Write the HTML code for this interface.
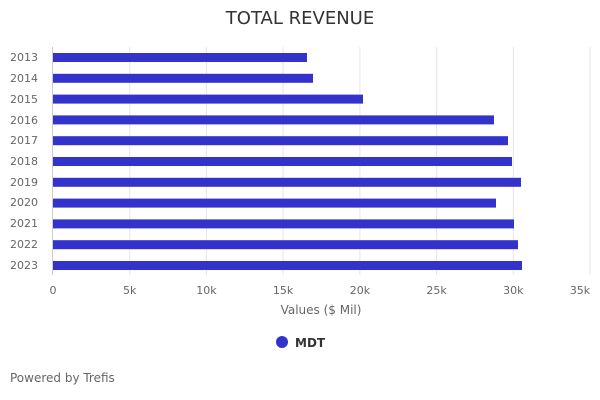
<!DOCTYPE html>
<html><head><meta charset="utf-8"><style>
body{margin:0;background:#fff;}
svg{display:block;font-family:"DejaVu Sans","Liberation Sans",sans-serif;}
</style></head><body>
<svg width="600" height="400" viewBox="0 0 600 400" xmlns="http://www.w3.org/2000/svg">
<rect width="600" height="400" fill="#fff"/>
<text x="300" y="24" text-anchor="middle" font-size="18" fill="#333">TOTAL REVENUE</text>
<g stroke="#e6e6e6" stroke-width="1">
<line x1="129.7" y1="47" x2="129.7" y2="275"/>
<line x1="206.4" y1="47" x2="206.4" y2="275"/>
<line x1="283.1" y1="47" x2="283.1" y2="275"/>
<line x1="359.9" y1="47" x2="359.9" y2="275"/>
<line x1="436.6" y1="47" x2="436.6" y2="275"/>
<line x1="513.3" y1="47" x2="513.3" y2="275"/>
<line x1="590" y1="47" x2="590" y2="275"/>
</g>
<line x1="52.5" y1="47" x2="52.5" y2="275" stroke="#ccc"/>
<g fill="#3333cc">
<rect x="53" y="53" width="254" height="9"/>
<rect x="53" y="73.8" width="260" height="9"/>
<rect x="53" y="94.6" width="310" height="9"/>
<rect x="53" y="115.4" width="441" height="9"/>
<rect x="53" y="136.2" width="455" height="9"/>
<rect x="53" y="157" width="459" height="9"/>
<rect x="53" y="177.8" width="468" height="9"/>
<rect x="53" y="198.6" width="443" height="9"/>
<rect x="53" y="219.4" width="461" height="9"/>
<rect x="53" y="240.2" width="465" height="9"/>
<rect x="53" y="261" width="469" height="9"/>
</g>
<g font-size="11" fill="#666" text-anchor="end">
<text x="38" y="61">2013</text><text x="38" y="82">2014</text><text x="38" y="103">2015</text>
<text x="38" y="124">2016</text><text x="38" y="144">2017</text><text x="38" y="165">2018</text>
<text x="38" y="186">2019</text><text x="38" y="206">2020</text><text x="38" y="227">2021</text>
<text x="38" y="248">2022</text><text x="38" y="269">2023</text>
</g>
<g font-size="11" fill="#666" text-anchor="middle">
<text x="53" y="294">0</text><text x="129.7" y="294">5k</text><text x="206.4" y="294">10k</text>
<text x="283.1" y="294">15k</text><text x="359.9" y="294">20k</text><text x="436.6" y="294">25k</text>
<text x="513.3" y="294">30k</text><text x="580" y="294">35k</text>
</g>
<text x="321" y="314" text-anchor="middle" font-size="12" fill="#666">Values ($ Mil)</text>
<circle cx="282" cy="342" r="6" fill="#3333cc"/>
<text x="295" y="347" font-size="12" font-weight="bold" fill="#333">MDT</text>
<text x="10" y="382" font-size="12" fill="#666">Powered by Trefis</text>
</svg>
</body></html>
